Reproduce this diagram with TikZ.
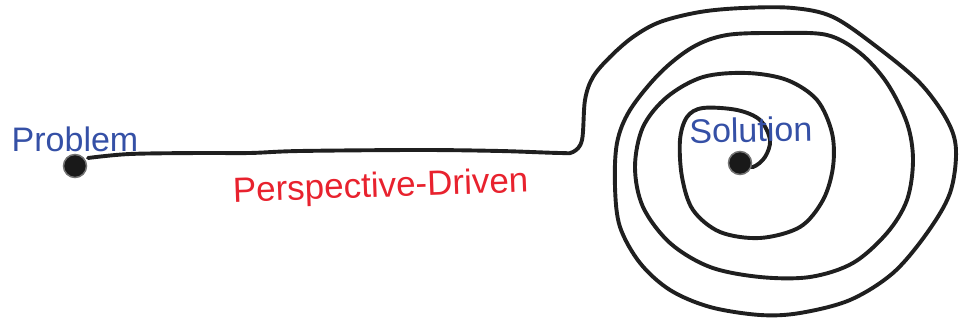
\documentclass[tikz,border=0pt]{standalone}
\usepackage{fontspec}
\setmainfont{Liberation Sans}
\definecolor{labelblue}{HTML}{3550A6}
\definecolor{labelred}{HTML}{E8222E}
\tikzset{
  dot/.style={circle, fill=black!90, draw=black!55, line width=1.5pt, minimum size=23pt, inner sep=0pt},
  path line/.style={line width=3.9pt, black!88, line cap=round, line join=round},
  endlabel/.style={text=labelblue, font=\fontsize{34}{39}\selectfont, inner sep=0pt},
  midlabel/.style={text=labelred, font=\fontsize{35}{40}\selectfont, inner sep=0pt},
}
\begin{document}
\begin{tikzpicture}[x=1pt, y=-1pt]
  \useasboundingbox (0,0) rectangle (959,320);

  % the long road in from the left, then the winding route inwards
  \draw[path line] plot[smooth, tension=0.55] coordinates {
    (88,158) (130,154) (200,153) (250,153) (300,151) (420,150) (500,151) (560,153)
    (573,152) (582,140) (585,100) (593,77) (610,57) (633,37) (660,22) (700,12)
    (743,8) (793,8) (833,17) (877,47) (920,83) (947,120) (956,150) (950,193)
    (927,233) (893,273) (850,300) (800,313) (760,315) (710,307) (670,290)
    (640,263) (620,227) (615,187) (617,143) (630,110) (660,73) (693,47)
    (727,35) (777,33) (827,35) (860,53) (887,83) (907,123) (913,160) (907,200)
    (887,233) (853,263) (810,277) (760,277) (710,267) (670,243) (643,207)
    (635,167) (643,127) (667,97) (703,77) (747,73) (787,80) (817,100)
    (832,133) (833,167) (823,200) (800,227) (760,238) (720,232) (693,210)
    (682,177) (680,140) (687,117) (703,108) (737,110) (760,120) (770,140)
    (765,157) (753,167) (741,164)};

  \node[dot] (problem) at (75,166) {};
  \node[dot] (solution) at (740,163) {};

  \node[endlabel, anchor=base] (problemlabel) at (75,152) {Problem};
  \node[endlabel, anchor=base, rotate=1] (solutionlabel) at (751,142) {Solution};
  \node[midlabel, anchor=base, rotate=2] (routelabel) at (381,197) {Perspective-Driven};
\end{tikzpicture}
\end{document}
